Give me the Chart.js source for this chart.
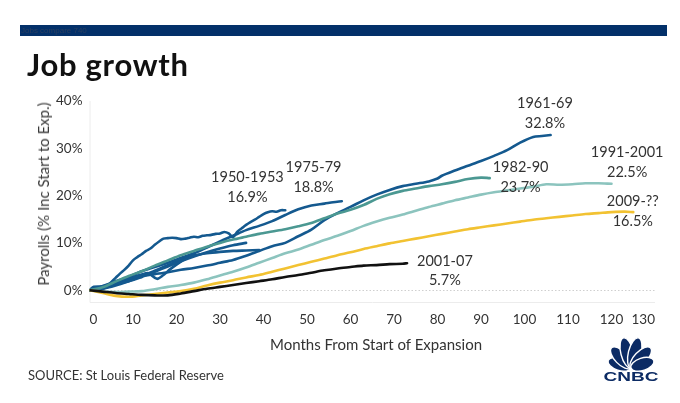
<!DOCTYPE html>
<html><head><meta charset="utf-8">
<script src="https://cdn.jsdelivr.net/npm/chart.js"></script>
<style>
html,body{margin:0;padding:0;background:#fff;}
#wrap{position:relative;width:680px;height:403px;overflow:hidden;font-family:Lato,"Open Sans",sans-serif;color:#333;background:#fff;}
#c{position:absolute;left:0;top:0;}
#bar{position:absolute;left:20px;top:25px;width:647px;height:11px;background:#033069;}
#bar span{position:absolute;left:1px;top:0px;font-size:8px;line-height:11px;color:#2a3f60;font-family:"Liberation Sans",sans-serif;}
#title{position:absolute;left:27px;top:45px;font-size:31px;font-weight:700;letter-spacing:0.7px;color:#111;white-space:nowrap;}
#ytitle{position:absolute;left:43px;top:194px;font-size:15px;font-weight:400;white-space:nowrap;transform:translate(-50%,-50%) rotate(-90deg);color:#3a3a3a;}
#xtitle{position:absolute;left:376px;top:335px;font-size:15px;font-weight:400;white-space:nowrap;transform:translateX(-50%);color:#333;}
#source{position:absolute;left:28px;top:367px;font-size:13px;white-space:nowrap;color:#333;}
#logo{position:absolute;left:599px;top:335px;}
</style></head><body>
<div id="wrap">
  <canvas id="c" width="680" height="403"></canvas>
  <div id="bar"><span>Jobs compare 740</span></div>
  <div id="title">Job growth</div>
  <div id="ytitle">Payrolls (% Inc Start to Exp.)</div>
  <div id="xtitle">Months From Start of Expansion</div>
  <div id="source">SOURCE: St Louis Federal Reserve</div>
  <svg id="logo" width="64" height="48" viewBox="0 0 64 48">
    <g fill="#0c2b64" stroke="#fff" stroke-width="1.4">
      <ellipse cx="0" cy="-12" rx="6.2" ry="12" transform="translate(32,33) rotate(-72)"/>
      <ellipse cx="0" cy="-14" rx="6.4" ry="14" transform="translate(32,33) rotate(-44)"/>
      <ellipse cx="0" cy="-15.5" rx="6.4" ry="15.5" transform="translate(32,33) rotate(-14)"/>
      <ellipse cx="0" cy="-15.5" rx="6.4" ry="15.5" transform="translate(32,33) rotate(14)"/>
      <ellipse cx="0" cy="-14" rx="6.4" ry="14" transform="translate(32,33) rotate(44)"/>
      <ellipse cx="0" cy="-12" rx="6.2" ry="12" transform="translate(32,33) rotate(72)"/>
    </g>
    <text x="32" y="46" text-anchor="middle" font-family="Liberation Sans, Arial, sans-serif" font-weight="700" font-size="13" fill="#0c2b64" textLength="55" lengthAdjust="spacingAndGlyphs">CNBC</text>
  </svg>
</div>
<script>
// ---- tick labels ----
const xTicks = [0,10,20,30,40,50,60,70,80,90,100,110,120,130];
const yTicks = [0,10,20,30,40];

// ---- series: months from start, % increase in payrolls ----
const m1950 = [0,2,4,5,6,7,8,9,10,11,12,13,14,15,16,17,18,19,20,21,22,23,24,25,26,27,28,29,30,31,32,33,34,35,36,37,38,39,40,41,42,43,44,45];
const v1950 = [0,0.2,0.8,1.7,2.6,3.5,4.3,5.2,6.3,7.0,7.6,8.3,8.8,9.6,10.3,10.9,11.0,11.1,11.0,10.8,10.9,11.1,11.3,11.2,11.5,11.6,11.7,11.9,12.0,12.3,12.0,11.2,12.4,13.1,13.8,14.4,14.9,15.5,16.1,16.5,16.7,16.6,16.9,16.9];

const m1954 = [0,3,6,9,12,15,18,21,24,27,30,33,36,39];
const v1954 = [0,0.3,1.0,1.9,3.0,4.1,5.3,6.4,7.3,7.8,8.1,8.3,8.4,8.5];

const m1958 = [0,2,4,6,8,10,12,13.5,15.5,17,18.5,20,22,24];
const v1958 = [0,0.4,1.0,1.6,2.2,2.8,3.3,3.6,2.4,3.2,4.4,5.4,6.6,7.5];

const m1961 = [0,3,6,9,12,15,18,21,24,27,30,33,36,39,42,45,48,51,54,57,60,63,66,69,72,75,78,80,81,84,87,90,93,96,99,102,104,106];
const v1961 = [0,0.3,1.3,2.3,3.0,3.4,3.8,4.3,4.7,5.2,5.8,6.4,7.3,8.3,9.3,10.0,11.4,12.8,14.8,16.3,17.6,19.0,20.2,21.2,22.0,22.5,23.0,23.6,24.2,25.3,26.3,27.3,28.4,29.6,31.2,32.4,32.6,32.8];

const m1970 = [0,1,3,6,9,12,15,18,21,24,27,30,33,36];
const v1970 = [0,0.7,0.8,1.3,1.9,2.8,3.9,5.0,6.1,7.1,8.0,8.8,9.5,10.0];

const m1975 = [0,3,6,9,12,15,18,21,24,27,30,33,36,39,42,45,48,51,54,56,58];
const v1975 = [0,0.4,1.5,2.8,4.0,4.9,5.8,6.8,7.8,9.0,10.3,11.5,12.7,13.6,14.6,15.9,17.1,17.9,18.3,18.6,18.8];

const m1980 = [0,2,4,6,8,10,12];
const v1980 = [0,0.5,1.2,1.9,2.4,2.7,2.8];

const m1982 = [0,3,6,9,12,15,18,21,24,27,30,33,36,39,42,45,48,51,54,57,60,63,66,69,72,75,78,81,84,87,90,92];
const v1982 = [0,0.6,1.8,3.0,4.0,5.2,6.3,7.4,8.3,9.2,10.0,10.7,11.3,11.9,12.4,12.9,13.5,14.2,15.2,16.2,17.0,18.0,19.3,20.3,21.0,21.5,22.0,22.4,22.9,23.5,23.8,23.7];

const m1991 = [0,3,6,9,12,15,18,21,24,27,30,33,36,39,42,45,48,51,54,57,60,63,66,69,72,75,78,81,84,87,90,93,96,99,102,105,108,111,114,117,120];
const v1991 = [0,-0.3,-0.4,-0.3,-0.2,0.2,0.7,1.1,1.6,2.3,3.1,3.9,4.8,5.8,6.8,7.8,8.6,9.6,10.6,11.5,12.5,13.6,14.5,15.3,16.0,16.8,17.6,18.3,19.0,19.6,20.2,20.7,21.1,21.5,21.9,22.4,22.3,22.4,22.6,22.6,22.5];

const m2001 = [0,3,6,9,12,15,18,21,24,27,30,33,36,39,42,45,48,51,54,57,60,63,66,69,72,73];
const v2001 = [0,-0.3,-0.6,-0.8,-1.0,-1.1,-1.1,-0.7,-0.2,0.3,0.7,1.1,1.5,1.9,2.3,2.8,3.2,3.7,4.2,4.6,4.9,5.2,5.3,5.5,5.6,5.7];

const m2009 = [0,3,6,9,12,15,18,21,24,27,30,33,36,39,42,45,48,51,54,57,60,63,66,69,72,75,78,81,84,87,90,93,96,99,102,105,108,111,114,117,120,123,125];
const v2009 = [0,-0.6,-1.2,-1.4,-1.1,-0.8,-0.5,-0.2,0.3,1.0,1.6,2.1,2.7,3.2,3.9,4.6,5.3,6.0,6.7,7.4,8.0,8.7,9.3,9.9,10.4,10.9,11.4,11.9,12.4,12.9,13.3,13.7,14.1,14.5,14.9,15.2,15.5,15.8,16.1,16.3,16.5,16.6,16.5];

// ---- label texts (period, final value) and their anchor in data units ----
const labelTexts = [['1950-1953','16.9%'],['1975-79','18.8%'],['1961-69','32.8%'],['1982-90','23.7%'],['1991-2001','22.5%'],['2009-??','16.5%'],['2001-07','5.7%']];
const labelMonths = [36.3, 51.5, 104.7, 99.1, 123.6, 124.9, 81.7];
const labelLine1 = [23.9, 26.0, 39.5, 25.9, 29.2, 18.7, 6.0];
const labelLine2 = [19.7, 21.8, 35.2, 21.8, 25.0, 14.65, 2.1];

const BLUE = '#14598f', TEAL = '#4b9892', LTEAL = '#8cc4be', GOLD = '#f2c232', BLACK = '#111111';

function pts(m, v){ return m.map((x,i)=>({x:x, y:v[i]})); }
const seriesDefs = [
  ['2001-07', m2001, v2001, BLACK],
  ['2009-??', m2009, v2009, GOLD],
  ['1991-2001', m1991, v1991, LTEAL],
  ['1982-90', m1982, v1982, TEAL],
  ['1980-81', m1980, v1980, BLUE],
  ['1970-73', m1970, v1970, BLUE],
  ['1958-60', m1958, v1958, BLUE],
  ['1954-57', m1954, v1954, BLUE],
  ['1961-69', m1961, v1961, BLUE],
  ['1975-79', m1975, v1975, BLUE],
  ['1950-53', m1950, v1950, BLUE]
];
const datasets = seriesDefs.map(s=>({
  label:s[0], data:pts(s[1],s[2]), borderColor:s[3], backgroundColor:s[3],
  borderWidth:2.6, pointRadius:0, tension:0.3, fill:false,
  borderCapStyle:'round', borderJoinStyle:'round'
}));

const framePlugin = {
  id:'frame',
  beforeDatasetsDraw(chart){
    const {ctx, chartArea:a, scales:{y}} = chart;
    ctx.save();
    ctx.strokeStyle = '#ececec'; ctx.lineWidth = 1;
    ctx.beginPath();
    ctx.moveTo(a.left+0.5, a.top); ctx.lineTo(a.left+0.5, a.bottom+0.5);
    ctx.lineTo(a.right, a.bottom+0.5);
    ctx.stroke();
    ctx.strokeStyle = '#cfcfcf'; ctx.setLineDash([1.5,2]);
    const yz = Math.round(y.getPixelForValue(0))+0.5;
    ctx.beginPath(); ctx.moveTo(a.left, yz); ctx.lineTo(a.right, yz); ctx.stroke();
    ctx.restore();
  }
};
const labelPlugin = {
  id:'seriesLabels',
  afterDatasetsDraw(chart){
    const {ctx, scales:{x,y}} = chart;
    ctx.save();
    ctx.font = '14.5px Lato, "Open Sans", sans-serif';
    ctx.fillStyle = '#333333';
    ctx.textAlign = 'center'; ctx.textBaseline = 'middle';
    labelTexts.forEach((t,i)=>{
      const px = x.getPixelForValue(labelMonths[i]);
      ctx.fillText(t[0], px, y.getPixelForValue(labelLine1[i]));
      ctx.fillText(t[1], px, y.getPixelForValue(labelLine2[i]));
    });
    ctx.restore();
  }
};

new Chart(document.getElementById('c'), {
  type:'line',
  data:{datasets},
  options:{
    responsive:false, animation:false, devicePixelRatio:1,
    layout:{padding:{left:0,right:25,top:101,bottom:0}},
    plugins:{legend:{display:false}, tooltip:{enabled:false}},
    scales:{
      x:{type:'linear', min:0, max:130,
        afterBuildTicks:s=>{ s.ticks = xTicks.map(v=>({value:v})); },
        afterFit:s=>{ s.height = 101; },
        grid:{display:false, drawTicks:false}, border:{display:false},
        ticks:{padding:10, align:'inner', color:'#333', font:{family:'Lato, "Open Sans", sans-serif', size:13.5}, maxRotation:0, autoSkip:false, callback:v=>String(v)}
      },
      y:{type:'linear', min:-2.5, max:40,
        afterBuildTicks:s=>{ s.ticks = yTicks.map(v=>({value:v})); },
        afterFit:s=>{ s.width = 89.5; },
        grid:{display:false, drawTicks:false}, border:{display:false},
        ticks:{padding:7, color:'#333', font:{family:'Lato, "Open Sans", sans-serif', size:13.5}, callback:v=>v+'%'}
      }
    }
  },
  plugins:[framePlugin, labelPlugin]
});
</script>
</body></html>
